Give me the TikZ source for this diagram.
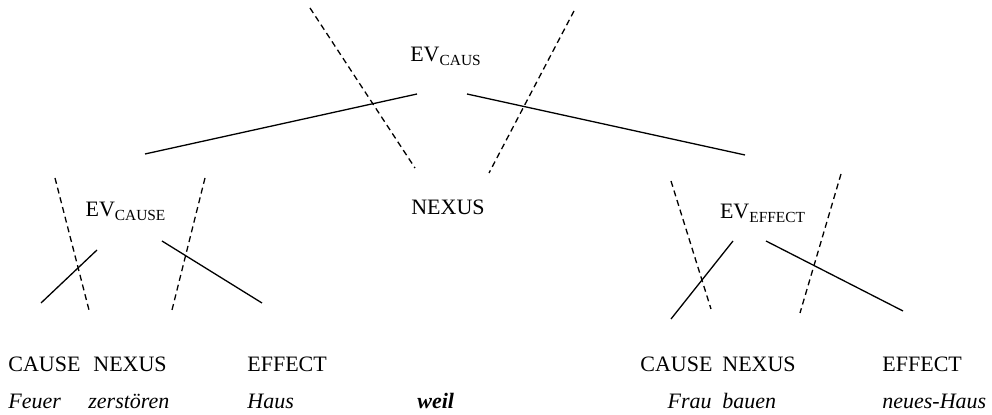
\documentclass[tikz,border=0pt]{standalone}
\usepackage{fontspec}
\setmainfont{Liberation Serif}

\tikzstyle{cat} = [anchor=base, inner sep=0pt]
\tikzstyle{lab} = [anchor=base west, inner sep=0pt]
\tikzstyle{word} = [anchor=base west, inner sep=0pt, font=\fontsize{11}{13}\selectfont\itshape]
\tikzstyle{arc} = [line width=0.65pt]
\tikzstyle{cut} = [line width=0.65pt, dash pattern=on 3pt off 2pt]

\newcommand{\ev}[1]{EV\textsubscript{#1}}

\begin{document}
\begin{tikzpicture}[x=0.5pt, y=-0.5pt, font=\fontsize{11}{13}\selectfont]
	\useasboundingbox (0,0) rectangle (992,415);
	% top level
	\node[cat] (evcaus) at (446,62) {\ev{CAUS}};
	\node[cat] (nexus) at (448,215) {NEXUS};
	\node[cat] (evcause) at (126,217) {\ev{CAUSE}};
	\node[cat] (eveffect) at (763,219) {\ev{EFFECT}};
	\draw[arc] (417,94) coordinate (caus-l) -- (145,154) coordinate (cause-top);
	\draw[arc] (467,94) coordinate (caus-r) -- (745,155) coordinate (effect-top);
	\draw[cut] (310,8) coordinate (cut1-a) -- (415,168) coordinate (cut1-b);
	\draw[cut] (574,11) coordinate (cut2-a) -- (489,173) coordinate (cut2-b);
	% left event
	\node[lab] (lcause) at (8,372) {CAUSE};
	\node[lab] (lnexus) at (93,372) {NEXUS};
	\node[lab] (leffect) at (247,372) {EFFECT};
	\node[word] (feuer) at (8,409) {Feuer};
	\node[word] (zerst) at (88,409) {zerstören};
	\node[word] (haus) at (247,409) {Haus};
	\draw[arc] (97,250) coordinate (lc-a) -- (41,303) coordinate (lc-b);
	\draw[arc] (162,241) coordinate (le-a) -- (262,303) coordinate (le-b);
	\draw[cut] (55,178) coordinate (cut3-a) -- (89,310) coordinate (cut3-b);
	\draw[cut] (205,178) coordinate (cut4-a) -- (172,310) coordinate (cut4-b);
	% nexus word
	\node[word, font=\fontsize{11}{13}\selectfont\bfseries\itshape] (weil) at (417,409) {weil};
	% right event
	\node[lab] (rcause) at (640,372) {CAUSE};
	\node[lab] (rnexus) at (722,372) {NEXUS};
	\node[lab] (reffect) at (882,372) {EFFECT};
	\node[word, anchor=base east] (frau) at (712,409) {Frau};
	\node[word] (bauen) at (722,409) {bauen};
	\node[word] (neues) at (882,409) {neues-Haus};
	\draw[arc] (733,241) coordinate (rc-a) -- (671,319) coordinate (rc-b);
	\draw[arc] (766,241) coordinate (re-a) -- (903,311) coordinate (re-b);
	\draw[cut] (671,181) coordinate (cut5-a) -- (711,309) coordinate (cut5-b);
	\draw[cut] (841,174) coordinate (cut6-a) -- (800,313) coordinate (cut6-b);
\end{tikzpicture}
\end{document}
